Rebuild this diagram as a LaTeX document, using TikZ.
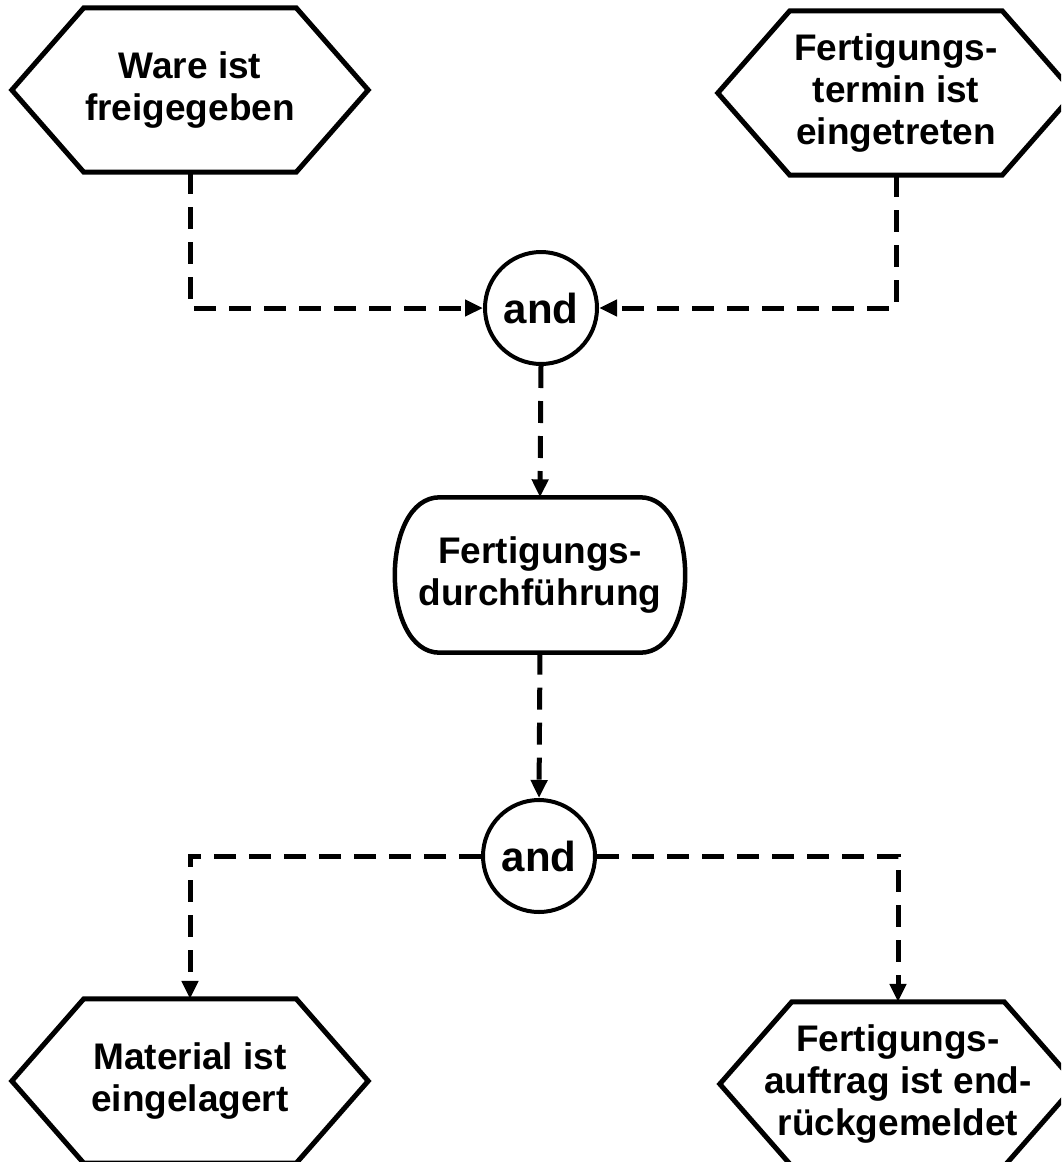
\documentclass[tikz,border=0pt]{standalone}
\usepackage{fontspec}
\setmainfont{Liberation Sans}
\usetikzlibrary{arrows.meta}

% outline of an event hexagon around a named node
\newcommand\hexframe[1]{%
  \draw[hexline] (#1.west) -- ([xshift=72pt]#1.north west)
    -- ([xshift=-72pt]#1.north east) -- (#1.east)
    -- ([xshift=-72pt]#1.south east) -- ([xshift=72pt]#1.south west) -- cycle;}

% outline of a function box with bulging sides around a named node
\newcommand\funcframe[1]{%
  \draw[funcline] ([xshift=42pt]#1.north west) -- ([xshift=-42pt]#1.north east)
    .. controls ([xshift=18pt]#1.north east) and ([xshift=18pt]#1.south east)
    .. ([xshift=-42pt]#1.south east) -- ([xshift=42pt]#1.south west)
    .. controls ([xshift=-18pt]#1.south west) and ([xshift=-18pt]#1.north west)
    .. cycle;}

\tikzset{
  txt/.style={font=\bfseries\fontsize{37}{42}\selectfont, align=center},
  eventnode/.style={txt, minimum width=356pt, minimum height=164pt, inner sep=0pt},
  hexline/.style={line width=5pt, line join=miter},
  funcnode/.style={txt, minimum width=284pt, minimum height=155pt, inner sep=0pt},
  funcline/.style={line width=4.5pt},
  opnode/.style={draw, circle, line width=4pt, minimum size=112pt, inner sep=0pt,
    font=\bfseries\fontsize{42}{46}\selectfont},
  flow/.style={line width=5pt, dash pattern=on 22pt off 13pt,
    -{Triangle[length=18pt,width=16pt]}},
}

\begin{document}
\begin{tikzpicture}[x=1pt,y=-1pt]
  \useasboundingbox (0,0) rectangle (1061,1162);
  \clip (0,0) rectangle (1061,1162);

  % start events
  \node[eventnode] (ware) at (190,90) {Ware ist\\freigegeben};
  \hexframe{ware}
  \node[eventnode] (termin) at (896,93) {Fertigungs-\\termin ist\\eingetreten};
  \hexframe{termin}

  % joining operator
  \node[opnode] (and1) at (541,308) {and};

  % function
  \node[funcnode] (durch) at (540,575) {Fertigungs-\\durchführung};
  \funcframe{durch}

  % splitting operator
  \node[opnode] (and2) at (539,856) {and};

  % end events
  \node[eventnode] (lager) at (190,1081) {Material ist\\eingelagert};
  \hexframe{lager}
  \node[eventnode] (rueck) at (898,1084) {Fertigungs-\\auftrag ist end-\\rückgemeldet};
  \hexframe{rueck}

  % control flow
  \draw[flow] (ware.south) |- (and1.west);
  \draw[flow] (termin.south) |- (and1.east);
  \draw[flow] (and1.south) -- (durch.north);
  \draw[flow] (durch.south) -- (and2.north);
  \draw[flow] (and2.west) -| (lager.north);
  \draw[flow] (and2.east) -| (rueck.north);
\end{tikzpicture}
\end{document}
